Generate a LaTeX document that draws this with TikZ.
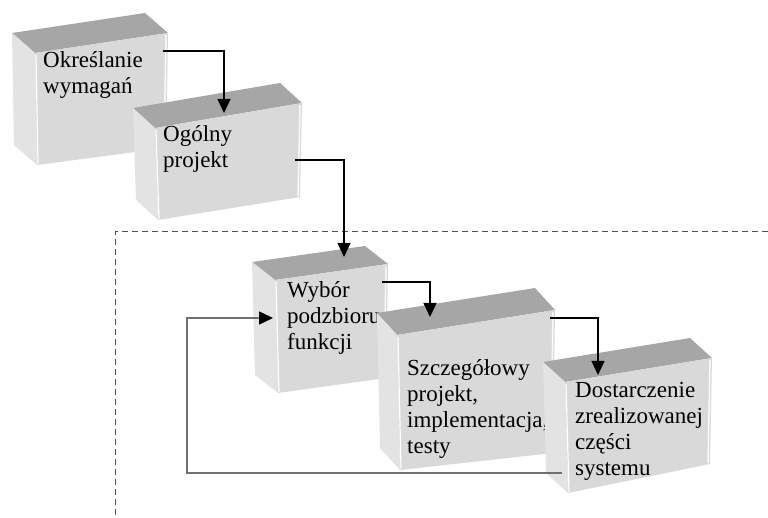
\documentclass[tikz,border=0pt]{standalone}
\usepackage{fontspec}
\setmainfont{Liberation Serif}
\usetikzlibrary{calc,arrows.meta}

\definecolor{facefront}{HTML}{D9D9D9}
\definecolor{facetop}{HTML}{A6A6A6}
\definecolor{faceside}{HTML}{E3E3E3}
\definecolor{loopgray}{HTML}{707070}
\definecolor{framegray}{HTML}{505050}

% Draws a shaded block from the four front corners (#1-tl, #1-tr, #1-br, #1-bl)
% and the depth offset #2 pointing back to the upper left.
\newcommand\blockfaces[2]{%
  \fill[facetop] (#1-tl) -- (#1-tr) -- ($(#1-tr)+(#2)$) -- ($(#1-tl)+(#2)$) -- cycle;
  \fill[faceside] (#1-tl) -- ($(#1-tl)+(#2)$) -- ($(#1-bl)+(#2)$) -- (#1-bl) -- cycle;
  \fill[facefront] (#1-tl) -- (#1-tr) -- (#1-br) -- (#1-bl) -- cycle;
  \draw[white, line width=1.2pt] ($(#1-tl)+(1,2)$) -- ($(#1-bl)+(1,-1)$);
  \draw[white!85!facefront, line width=1.5pt] ($(#1-tr)+(-2,2)$) -- ($(#1-br)+(-2,-1)$);
}

\begin{document}
\begin{tikzpicture}[x=1pt, y=-1pt,
  blocktext/.style={anchor=base west, inner sep=0pt, text width=220pt,
    align=left, font=\fontsize{23}{26}\selectfont},
  flow/.style={draw=black, line width=1.1pt,
    -{Triangle[width=13pt,length=14pt]}},
  loopback/.style={draw=loopgray, line width=1.5pt,
    -{Triangle[width=13pt,length=14pt,color=black]}},
  frame/.style={draw=framegray, line width=1pt, dash pattern=on 6pt off 4pt}]
\useasboundingbox (0,0) rectangle (768,518);

% iteration frame (open to the right and bottom)
\coordinate (frameR) at (768,232);
\coordinate (frameC) at (115,232);
\coordinate (frameB) at (115,518);
\draw[frame] (frameR) -- (frameC) -- (frameB);

% block 1
\coordinate (A-tl) at (35,53);  \coordinate (A-tr) at (168,33);
\coordinate (A-br) at (166,148); \coordinate (A-bl) at (37,165);
\blockfaces{A}{-23,-20}
\node[blocktext] (reqs) at (43,68) {Określanie\\wymagań};

% block 2
\coordinate (B-tl) at (155,128); \coordinate (B-tr) at (302,103);
\coordinate (B-br) at (300,197); \coordinate (B-bl) at (158,220);
\blockfaces{B}{-22,-20}
\node[blocktext] (general) at (163,142) {Ogólny\\projekt};

% block 3
\coordinate (C-tl) at (275,280); \coordinate (C-tr) at (388,264);
\coordinate (C-br) at (386,378); \coordinate (C-bl) at (278,393);
\blockfaces{C}{-23,-18}
\node[blocktext] (subset) at (287,298) {Wybór\\podzbioru\\funkcji};

% block 4
\coordinate (D-tl) at (397,335); \coordinate (D-tr) at (555,310);
\coordinate (D-br) at (553,453); \coordinate (D-bl) at (400,470);
\blockfaces{D}{-20,-22}
\node[blocktext] (detail) at (407,375) {Szczegółowy\\projekt,\\implementacja,\\testy};

% block 5
\coordinate (E-tl) at (565,382); \coordinate (E-tr) at (712,358);
\coordinate (E-br) at (710,464); \coordinate (E-bl) at (568,493);
\blockfaces{E}{-22,-20}
\node[blocktext] (deliver) at (575,397) {Dostarczenie\\zrealizowanej\\części\\systemu};

% connector ends
\coordinate (A-out) at (163,51);  \coordinate (B-in) at (224,113);
\coordinate (B-out) at (295,160); \coordinate (C-in) at (344,257);
\coordinate (C-out) at (382,282); \coordinate (D-in) at (430,317);
\coordinate (D-out) at (550,318); \coordinate (E-in) at (598,375);
\coordinate (E-back) at (562,473); \coordinate (loopL) at (187,473);
\coordinate (C-back) at (273,318);

\draw[flow] (A-out) -| (B-in);
\draw[flow] (B-out) -| (C-in);
\draw[flow] (C-out) -| (D-in);
\draw[flow] (D-out) -| (E-in);
\draw[loopback] (E-back) -- (loopL) |- (C-back);
\end{tikzpicture}
\end{document}
